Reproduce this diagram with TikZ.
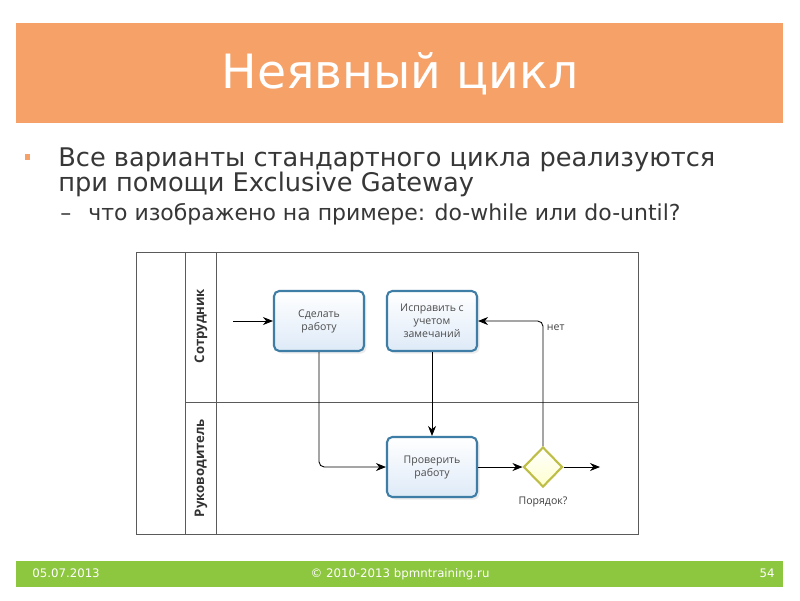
\documentclass[tikz,border=0pt]{standalone}
\usepackage{fontspec}
\setmainfont{DejaVu Sans}
\newfontfamily\bpmnfont{Open Sans}
\usetikzlibrary{arrows.meta,positioning,shapes.geometric,shadows}
\definecolor{titlebar}{RGB}{245,161,104}
\definecolor{footbar}{RGB}{141,198,63}
\definecolor{bodytext}{RGB}{55,55,55}
\definecolor{taskline}{RGB}{62,125,165}
\definecolor{taskfill}{RGB}{222,234,248}
\definecolor{gateline}{RGB}{190,190,70}
\definecolor{gatefill}{RGB}{255,255,205}
\definecolor{poolline}{RGB}{90,90,90}

\begin{document}
\begin{tikzpicture}[x=0.02cm,y=-0.02cm,
  task/.style={draw=taskline,line width=1.2pt,rounded corners=3pt,minimum width=1.8cm,minimum height=1.2cm,top color=white,bottom color=taskfill,align=center,font=\bpmnfont\fontsize{6}{7.4}\selectfont,text=black!70,drop shadow={opacity=0.15,shadow xshift=0.05cm,shadow yshift=-0.05cm}},
  gateway/.style={diamond,draw=gateline,line width=1.2pt,inner sep=0pt,minimum width=0.78cm,minimum height=0.8cm,top color=white,bottom color=gatefill},
  flow/.style={-{Stealth[length=0.2cm,width=0.16cm]},line width=0.5pt,rounded corners=3pt},
  pool/.style={draw=poolline,line width=0.5pt},
  lanelabel/.style={rotate=90,font=\bpmnfont\bfseries\fontsize{7.5}{9}\selectfont,text=black!80},
  flowlabel/.style={font=\bpmnfont\fontsize{6}{7}\selectfont,text=black!75,inner sep=1pt},
  bodyline/.style={anchor=base west,inner sep=0pt,text=bodytext},
  foottext/.style={text=white,font=\fontsize{6.7}{7}\selectfont,inner sep=0pt},
]
\useasboundingbox[fill=white] (0,0) rectangle (800,600);

% title
\fill[titlebar] (16,23) rectangle (783,123);
\node[text=white,font=\fontsize{26.9}{30}\selectfont] (title) at (400,74) {Неявный цикл};

% bullets
\fill[titlebar] (25,154) rectangle (30,160);
\node[bodyline,font=\fontsize{14.6}{17}\selectfont] (line1) at (58,166) {Все варианты стандартного цикла реализуются};
\node[bodyline,font=\fontsize{14.6}{17}\selectfont] (line2) at (58,191) {при помощи Exclusive Gateway};
\node[bodyline,font=\fontsize{12.5}{14}\selectfont] (dash) at (60,220) {–};
\node[bodyline,font=\fontsize{12.5}{14}\selectfont] (line3) at (88,220) {что изображено на примере: do-while или do-until?};

% pool and lanes
\draw[pool] (136,252) rectangle (638,534);
\draw[pool] (185,252) -- (185,534);
\draw[pool] (216,252) -- (216,534);
\draw[pool] (185,402) -- (638,402);
\node[lanelabel] (lane1) at (201,326) {Сотрудник};
\node[lanelabel] (lane2) at (201,468) {Руководитель};

% tasks
\node[task] (make) at (319,321) {Сделать\\работу};
\node[task] (fix) at (432,321) {Исправить с\\учетом\\замечаний};
\node[task] (check) at (432,467) {Проверить\\работу};
\node[gateway] (gw) at (543,467) {};
\node[flowlabel,below=4pt of gw] (gwlabel) {Порядок?};

% flows
\coordinate (start) at (233,321);
\coordinate (finish) at (600,467);
\draw[flow] (start) -- (make);
\draw[flow] (make.south) |- (check.west);
\draw[flow] (fix) -- (check);
\draw[flow] (check) -- (gw);
\draw[flow] (gw) -- (finish);
\draw[flow] (gw.north) |- node[flowlabel,pos=0.5,anchor=north west,xshift=1pt,yshift=-1pt] (no) {нет} (fix.east);

% footer
\fill[footbar] (16,561) rectangle (783,587);
\node[foottext,anchor=base west] (date) at (32,577) {05.07.2013};
\node[foottext,anchor=base] (copy) at (400,577) {© 2010-2013 bpmntraining.ru};
\node[foottext,anchor=base east] (page) at (775,577) {54};
\end{tikzpicture}
\end{document}
